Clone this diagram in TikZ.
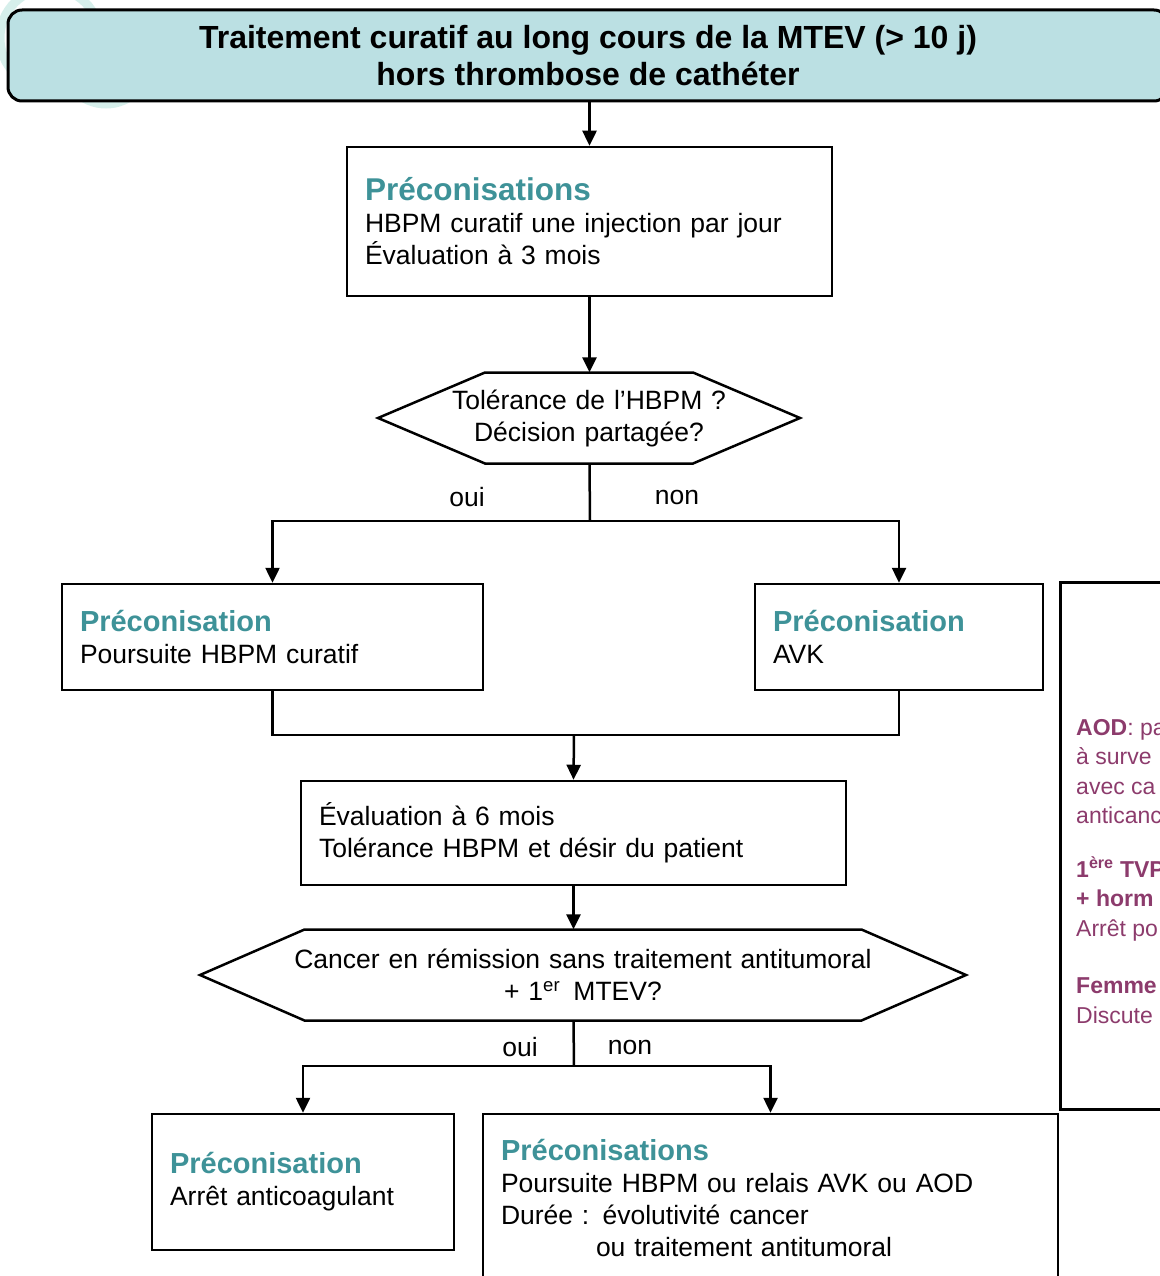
\documentclass[tikz,border=0pt]{standalone}
\usepackage{fontspec}
\setmainfont{Liberation Sans}
\usetikzlibrary{arrows.meta}
\definecolor{titlefill}{HTML}{BBE0E3}
\definecolor{precoteal}{HTML}{3E9298}
\definecolor{notepurple}{HTML}{8C3B6C}
\definecolor{wmark}{HTML}{D6EFEB}
\newcommand{\preco}[1]{{\color{precoteal}\bfseries\fontsize{29}{33}\selectfont #1}}

\begin{document}
\begin{tikzpicture}[x=1pt, y=-1pt,
		box/.style={draw, line width=2.5pt, align=left, inner xsep=18pt, inner ysep=0pt, font=\fontsize{26.5}{32}\selectfont},
		choice/.style={align=center, inner sep=0pt, text width=640pt, minimum height=91pt, font=\fontsize{26.5}{32}\selectfont},
		link/.style={line width=2.5pt},
		arr/.style={link, -{Triangle[width=14pt,length=15pt]}},
		lbl/.style={inner sep=0pt, font=\fontsize{26.5}{32}\selectfont}]
	\useasboundingbox (0,0) rectangle (1159,1276);

	% Watermark
	\draw[wmark, line width=9pt] (50,38) circle (50);
	\draw[wmark, line width=9pt] (106,60) circle (44);

	% Title
	\node[draw, line width=3pt, rounded corners=14pt, fill=titlefill, minimum width=1160pt, minimum height=91pt, align=center, font=\bfseries\fontsize{32}{37}\selectfont] (title) at (588,55.5) {Traitement curatif au long cours de la MTEV (> 10 j)\\hors thrombose de cathéter};

	% First recommendation
	\node[box, text width=449pt, minimum height=149pt] (hbpm) at (589.5,221.5) {{\color{precoteal}\bfseries\fontsize{31.5}{34}\selectfont Préconisations}\\HBPM curatif une injection par jour\\Évaluation à 3 mois};

	% First decision
	\node[choice] (tol) at (589,418) {Tolérance de l’HBPM ?\\Décision partagée?};
	\draw[link] (tol.center) ++(-211,0) -- ++(107,-45.5) -- ++(208,0) -- ++(107,45.5) -- ++(-107,45.5) -- ++(-208,0) -- cycle;

	\node[box, text width=385pt, minimum height=106pt] (curatif) at (272.5,637) {\preco{Préconisation}\\Poursuite HBPM curatif};
	\node[box, text width=252pt, minimum height=106pt] (avk) at (899,637) {\preco{Préconisation}\\AVK};

	\node[lbl] (oui1) at (467,497) {oui};
	\node[lbl] (non1) at (677,497) {non};

	% Six months
	\node[box, text width=509pt, minimum height=104pt] (eval) at (573.5,833) {Évaluation à 6 mois\\Tolérance HBPM et désir du patient};

	% Second decision
	\node[choice] (cancer) at (583,975) {Cancer en rémission sans traitement antitumoral\\+ 1\textsuperscript{er}\, MTEV?};
	\draw[link] (cancer.center) ++(-383,0) -- ++(104.5,-45.5) -- ++(557,0) -- ++(104.5,45.5) -- ++(-104.5,45.5) -- ++(-557,0) -- cycle;

	\node[box, text width=266pt, minimum height=136pt] (arret) at (303,1182) {\preco{Préconisation}\\Arrêt anticoagulant};
	\node[box, text width=539pt, minimum height=168pt] (poursuite) at (770.5,1198) {\preco{Préconisations}\\Poursuite HBPM ou relais AVK ou AOD\\Durée : évolutivité cancer\\\hspace*{95pt}ou traitement antitumoral};

	\node[lbl] (oui2) at (520,1047) {oui};
	\node[lbl] (non2) at (630,1047) {non};

	% Side notes
	\node[draw, line width=2.5pt, minimum width=400pt, minimum height=527pt, anchor=north west] (notes) at (1059,581) {};
	\node[anchor=north west, align=left, inner sep=0pt, text=notepurple, font=\fontsize{23}{29.5}\selectfont] (notetxt) at (1076,719) {\textbf{AOD}: pa\\à surve\\avec ca\\anticanc\\[24pt]\textbf{1\textsuperscript{ère} TVP}\\\textbf{+ horm}\\Arrêt po\\[28pt]\textbf{Femme}\\Discute};

	% Connectors
	\coordinate (split1) at (590,521);
	\coordinate (merge) at (574,735);
	\coordinate (split2) at (574,1066);
	\draw[arr] (hbpm.north |- title.south) -- (hbpm.north);
	\draw[arr] (hbpm.south) -- (hbpm.south |- tol.north);
	\draw[link] (hbpm.south |- tol.south) -- (split1);
	\draw[arr] (split1) -| (curatif.north);
	\draw[arr] (split1) -| (avk.north);
	\draw[link] (curatif.south) |- (merge) -| (avk.south);
	\draw[arr] (merge) -- (eval.north);
	\draw[arr] (eval.south) -- (eval.south |- cancer.north);
	\draw[link] (eval.south |- cancer.south) -- (split2);
	\draw[arr] (split2) -| (arret.north);
	\draw[arr] (split2) -| (poursuite.north);
\end{tikzpicture}
\end{document}
